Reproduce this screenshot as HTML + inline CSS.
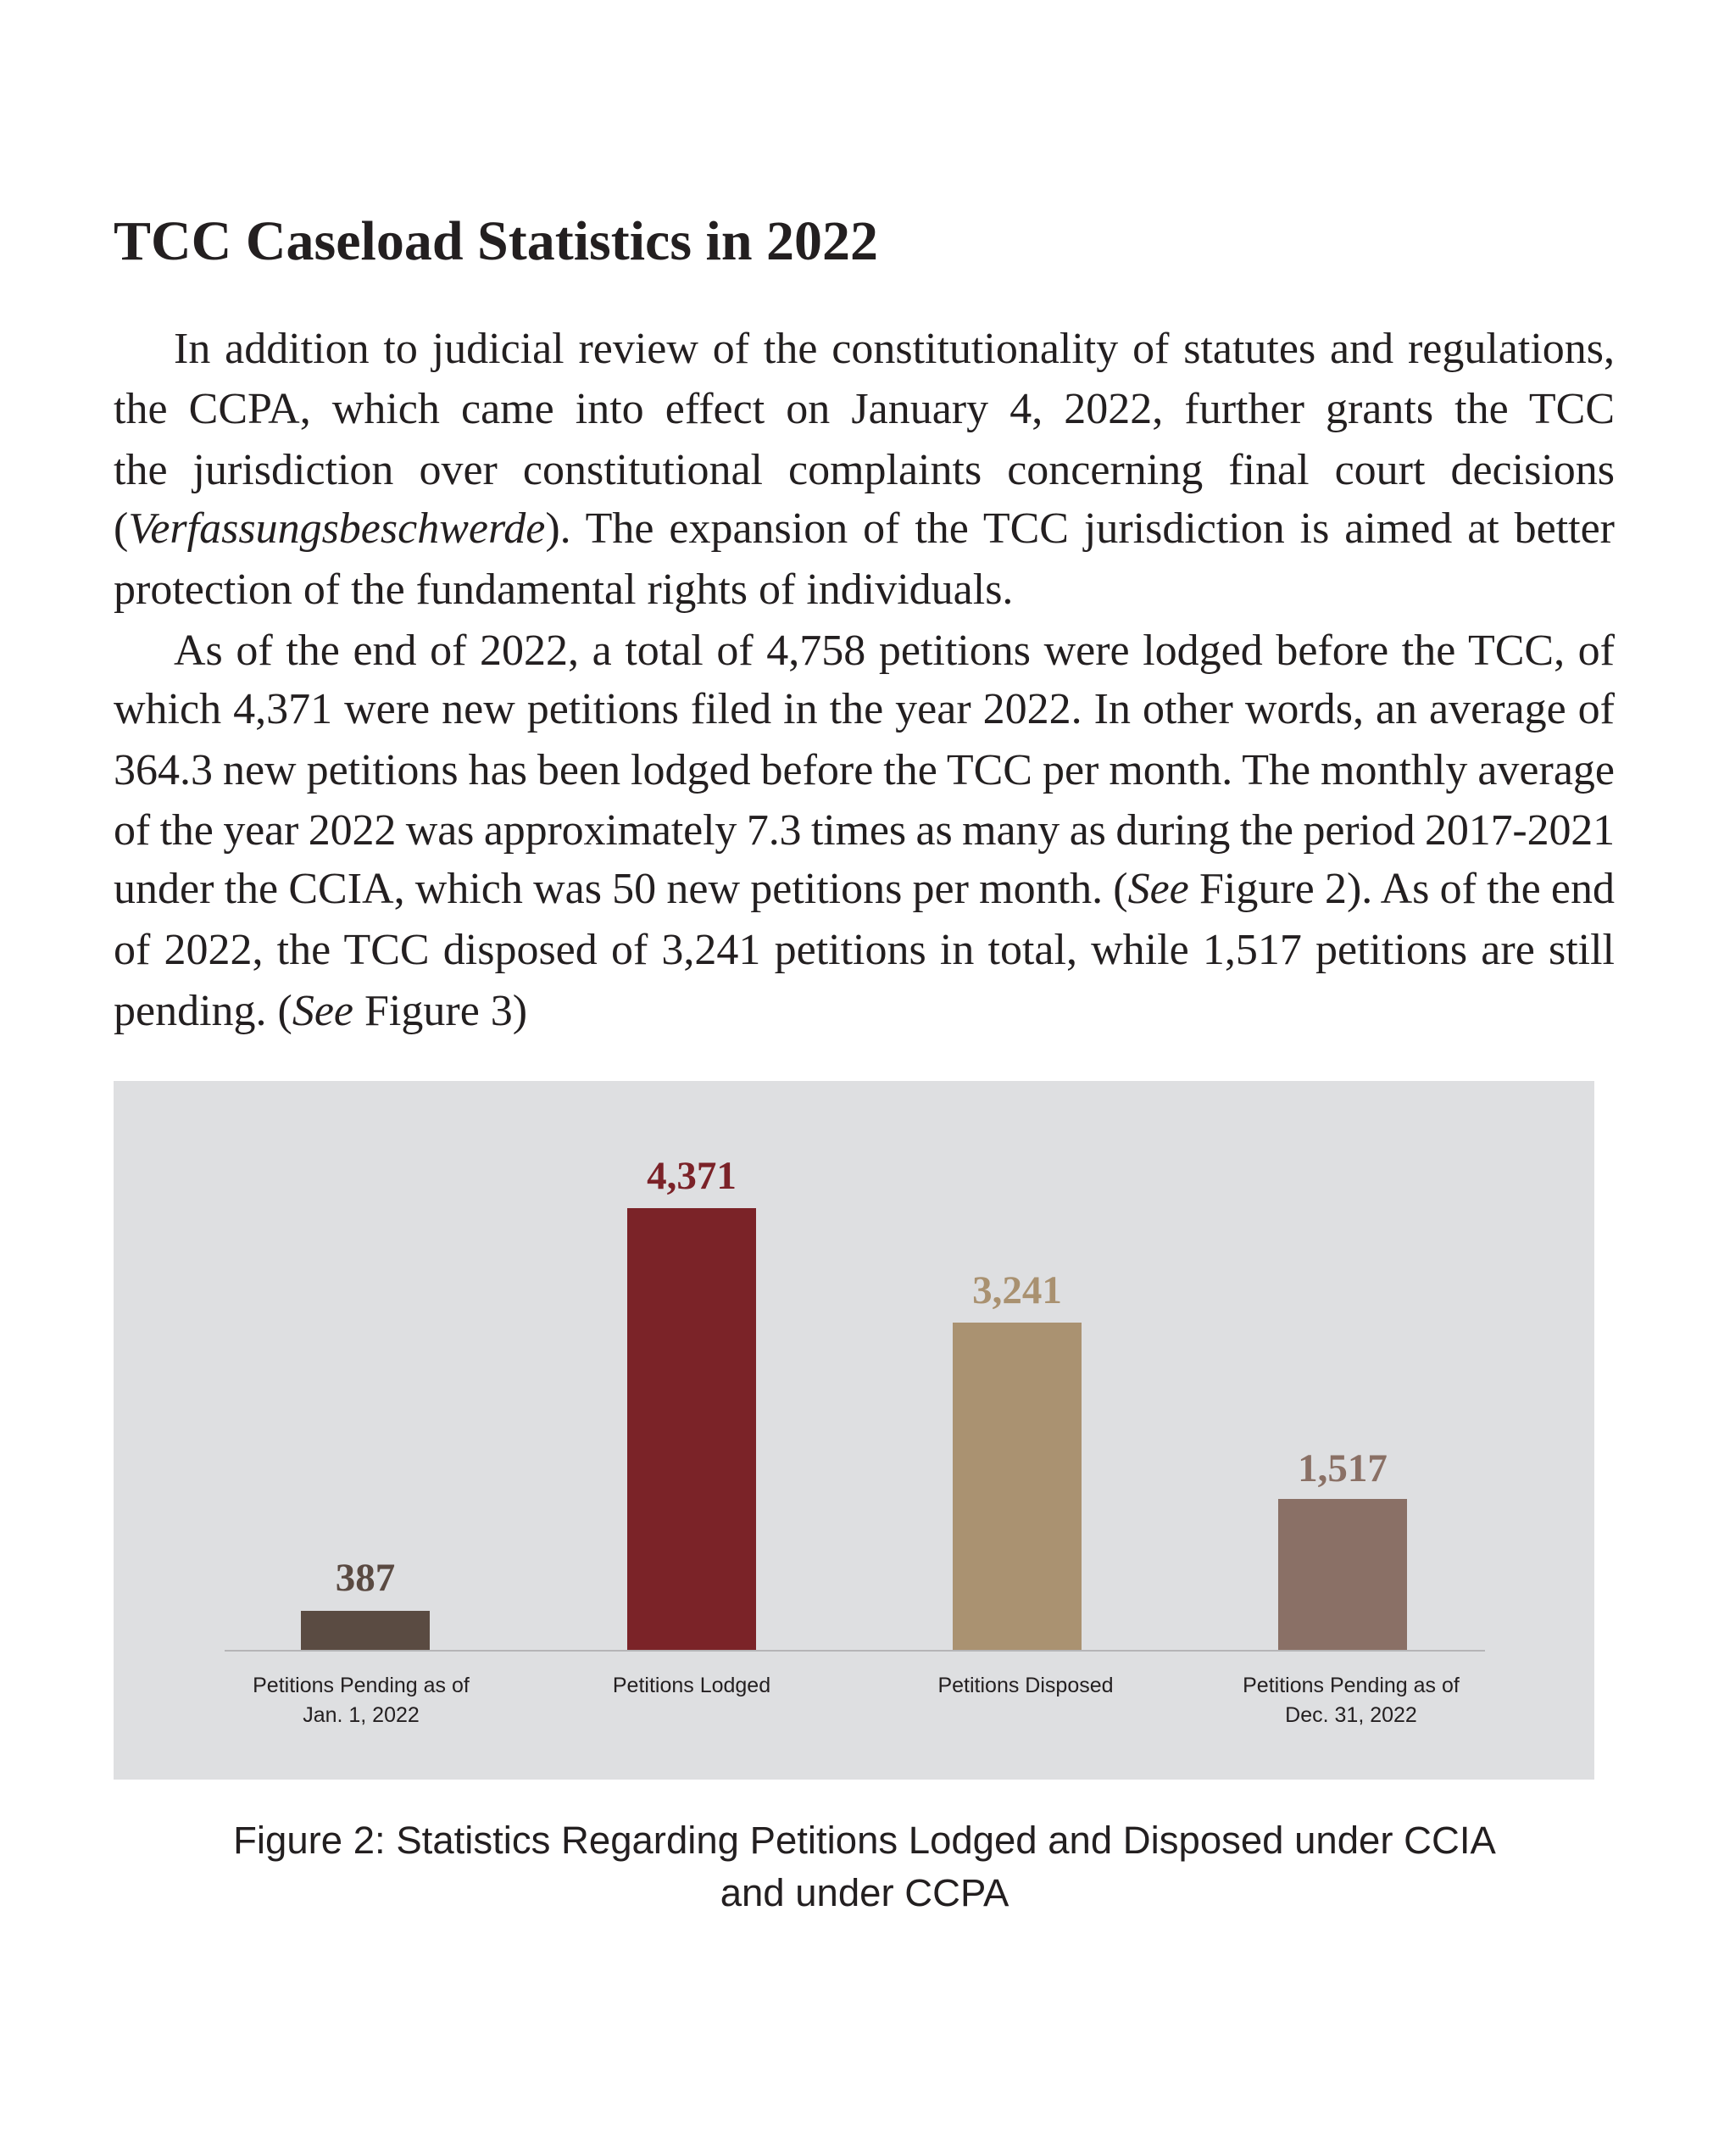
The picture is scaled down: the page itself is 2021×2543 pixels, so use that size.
<!DOCTYPE html>
<html><head><meta charset="utf-8"><style>
*{margin:0;padding:0}
body{width:2021px;height:2543px;background:#fff;position:relative;overflow:hidden;font-family:"Liberation Serif",serif;color:#231f20}
.t{position:absolute;left:134px;top:247px;font-size:66px;font-weight:bold}
.l{position:absolute;left:134px;width:1771px;font-size:52px;text-align:justify;text-align-last:justify;white-space:nowrap;line-height:60px}
.l.n{text-align-last:left}
.chart{position:absolute;left:134px;top:1275px;width:1747px;height:824px;background:#dedfe1}
.bar{position:absolute;width:152px}
.v{position:absolute;width:300px;text-align:center;font-size:47px;font-weight:bold;line-height:50px}
.c{position:absolute;width:340px;text-align:center;font-family:"Liberation Sans",sans-serif;font-size:25px;line-height:35px;color:#231f20}
.cap{position:absolute;left:0;width:2040px;text-align:center;font-family:"Liberation Sans",sans-serif;font-size:45.5px;line-height:62px;color:#231f20}
</style></head><body>
<div class="t">TCC Caseload Statistics in 2022</div>
<div class="l" style="top:382px;padding-left:71px;width:1700px">In addition to judicial review of the constitutionality of statutes and regulations,</div>
<div class="l" style="top:453px">the CCPA, which came into effect on January 4, 2022, further grants the TCC</div>
<div class="l" style="top:525px">the jurisdiction over constitutional complaints concerning final court decisions</div>
<div class="l" style="top:594px">(<i>Verfassungsbeschwerde</i>). The expansion of the TCC jurisdiction is aimed at better</div>
<div class="l n" style="top:666px">protection of the fundamental rights of individuals.</div>
<div class="l" style="top:738px;padding-left:71px;width:1700px">As of the end of 2022, a total of 4,758 petitions were lodged before the TCC, of</div>
<div class="l" style="top:807px">which 4,371 were new petitions filed in the year 2022. In other words, an average of</div>
<div class="l" style="top:879px;word-spacing:-2px">364.3 new petitions has been lodged before the TCC per month. The monthly average</div>
<div class="l" style="top:950px;word-spacing:-3.5px;letter-spacing:-0.15px">of the year 2022 was approximately 7.3 times as many as during the period 2017-2021</div>
<div class="l" style="top:1019px;word-spacing:-1.5px">under the CCIA, which was 50 new petitions per month. (<i>See</i> Figure 2). As of the end</div>
<div class="l" style="top:1091px">of 2022, the TCC disposed of 3,241 petitions in total, while 1,517 petitions are still</div>
<div class="l n" style="top:1163px">pending. (<i>See</i> Figure 3)</div>

<div class="chart"></div>
<div style="position:absolute;left:265px;top:1946px;width:1487px;height:2px;background:#b5b5b7"></div>
<div class="bar" style="left:355px;top:1900px;height:46px;background:#5a4b42"></div>
<div class="bar" style="left:740px;top:1425px;height:521px;background:#7b2328"></div>
<div class="bar" style="left:1124px;top:1560px;height:386px;background:#aa9271"></div>
<div class="bar" style="left:1508px;top:1768px;height:178px;background:#8a7066"></div>
<div class="v" style="left:281px;top:1836px;color:#5a4a42">387</div>
<div class="v" style="left:666px;top:1362px;color:#7b2228">4,371</div>
<div class="v" style="left:1050px;top:1497px;color:#a99170">3,241</div>
<div class="v" style="left:1434px;top:1707px;color:#8a7065">1,517</div>
<div class="c" style="left:256px;top:1971px">Petitions Pending as of<br>Jan. 1, 2022</div>
<div class="c" style="left:646px;top:1971px">Petitions Lodged</div>
<div class="c" style="left:1040px;top:1971px">Petitions Disposed</div>
<div class="c" style="left:1424px;top:1971px">Petitions Pending as of<br>Dec. 31, 2022</div>
<div class="cap" style="top:2140px">Figure 2: Statistics Regarding Petitions Lodged and Disposed under CCIA<br>and under CCPA</div>
</body></html>
